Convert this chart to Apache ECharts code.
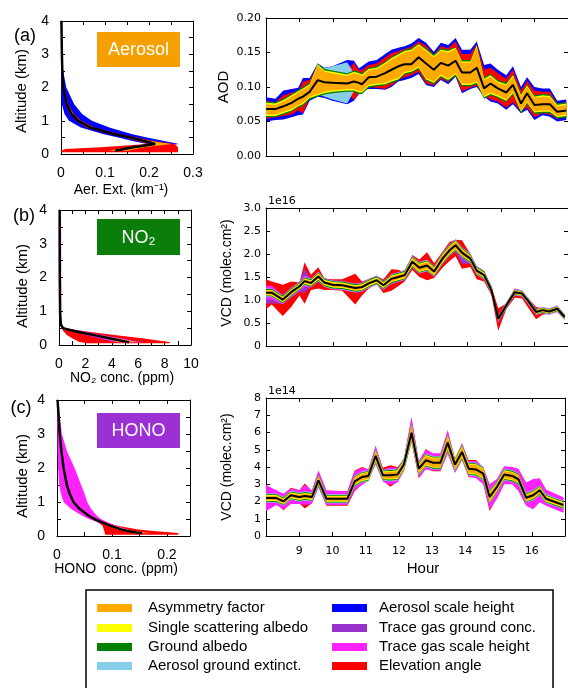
<!DOCTYPE html>
<html>
<head>
<meta charset="utf-8">
<script src="https://cdn.jsdelivr.net/npm/echarts@6/dist/echarts.min.js"></script>
<style>
html, body { margin: 0; background: #fff; }
#chart { width: 568px; height: 688px; }
</style>
</head>
<body>
<div id="chart"></div>
<script>
// colours of the eight sensitivity bands
var cAsym = '#ffaa00', cSsa = '#ffff00', cGalb = '#008000', cAext = '#87ceeb';
var cAsh = '#0000ff', cTgc = '#9932cc', cTsh = '#ff22ff', cElev = '#ff0000';

// ---- (a) aerosol profile (altitude km, extinction km-1)
var altA = [0.05, 0.1, 0.15, 0.2, 0.3, 0.4, 0.5, 0.6, 0.8, 1.0, 1.2, 1.5, 2.0, 2.5, 3.0, 4.0];
var aerMid = [null, .123, .143, .164, .214, .187, .157, .119, .066, .039, .024, .013, .005, .003, .002, .001];
var aerBlueLo = [null, .10, .12, .145, .195, .160, .130, .095, .045, .018, .008, .002, 0, 0, 0, 0];
var aerBlueHi = [null, .16, .19, .22, .268, .232, .195, .160, .110, .070, .048, .030, .012, .005, .002, .001];
var aerRedLo = [0, 0, .01, .09, .198, .172, .145, .108, .058, .034, .020, .010, .004, .002, .001, 0];
var aerRedHi = [.266, .266, .266, .266, .258, .205, .172, .132, .076, .046, .029, .017, .007, .004, .003, .002];
var aerOrLo = [null, .108, .128, .150, .203, .178, .150, .112, .061, .035, .021, .011, .004, .002, .001, 0];
var aerOrHi = [null, .152, .170, .190, .252, .200, .166, .127, .072, .044, .028, .016, .006, .004, .003, .002];

// ---- (a) AOD time series
var hoursA = [8.0, 8.28, 8.52, 8.76, 8.96, 9.1, 9.3, 9.54, 9.74, 9.98, 10.42, 10.62, 10.77, 10.86, 11.06, 11.3, 11.55, 11.74, 11.94, 12.13, 12.33, 12.55, 12.77, 13.0, 13.21, 13.43, 13.65, 13.84, 14.09, 14.28, 14.5, 14.69, 14.91, 15.16, 15.36, 15.6, 15.78, 16.0, 16.24, 16.46, 16.68, 16.95];
var aodMid = [.068,.068,.072,.077,.083,.086,.093,.110,.107,.106, .105,.108,.106,.104,.114,.115,.120,.125,.130,.133, .133,.143,.134,.125,.135,.131,.138,.121,.121,.128, .098,.105,.098,.092,.103,.076,.091,.074,.075,.075, .064,.066];
var aodBlueHi = [.085,.083,.095,.097,.099,.113,.113,.134,.128,.130, .139,.138,.127,.130,.137,.139,.148,.154,.157,.159, .163,.171,.164,.151,.164,.161,.171,.154,.154,.166, .132,.134,.125,.117,.130,.100,.114,.100,.098,.098, .080,.082];
var aodBlueLo = [.050,.052,.053,.056,.059,.060,.080,.086,.084,.080, .075,.080,.090,.095,.097,.097,.096,.100,.108,.110, .113,.119,.103,.100,.110,.104,.115,.091,.097,.100, .086,.079,.076,.067,.075,.062,.067,.052,.059,.057, .050,.052];
var aodRedHi = [.080,.078,.088,.092,.094,.108,.110,.130,.122,.122, .122,.135,.124,.125,.132,.134,.143,.149,.152,.155, .158,.166,.160,.147,.159,.156,.166,.148,.148,.162, .125,.128,.120,.112,.125,.095,.109,.095,.093,.093, .076,.078];
var aodRedLo = [.054,.056,.058,.060,.066,.062,.084,.089,.090,.090, .092,.081,.092,.097,.100,.099,.097,.102,.110,.114, .117,.122,.105,.102,.112,.107,.117,.094,.099,.102, .088,.082,.079,.070,.078,.065,.070,.056,.062,.060, .054,.056];
var aodSkyHi = [.075,.074,.079,.086,.092,.096,.102,.131,.127,.130, .136,.120,.118,.116,.124,.126,.133,.140,.145,.150, .152,.160,.152,.143,.152,.150,.155,.135,.135,.158, .110,.115,.106,.102,.115,.086,.100,.084,.086,.085, .072,.074];
var aodSkyLo = [.060,.060,.064,.068,.074,.077,.086,.090,.086,.082, .076,.094,.094,.094,.103,.105,.106,.110,.113,.122, .124,.130,.113,.108,.118,.112,.120,.105,.105,.108, .087,.092,.088,.082,.093,.066,.079,.065,.066,.066, .058,.060];
var aodGreenHi = [.079,.078,.083,.090,.096,.100,.106,.134,.126,.124, .120,.124,.122,.120,.128,.130,.137,.144,.149,.154, .156,.163,.156,.147,.156,.154,.158,.139,.139,.161, .114,.119,.110,.106,.119,.090,.104,.088,.090,.089, .076,.078];
var aodGreenLo = [.056,.056,.060,.064,.070,.073,.082,.086,.089,.091, .093,.093,.090,.090,.099,.101,.102,.106,.109,.118, .120,.126,.109,.104,.114,.108,.116,.101,.101,.104, .083,.088,.084,.078,.089,.062,.075,.061,.062,.062, .054,.056];
var aodYelHi = [.077,.076,.081,.088,.094,.098,.104,.133,.124,.122, .118,.122,.120,.118,.126,.128,.135,.142,.147,.152, .154,.162,.154,.145,.154,.152,.157,.137,.137,.160, .112,.117,.108,.104,.117,.088,.102,.086,.088,.087, .074,.076];
var aodYelLo = [.058,.058,.062,.066,.072,.075,.084,.088,.091,.093, .095,.095,.092,.092,.101,.103,.104,.108,.111,.120, .122,.128,.111,.106,.116,.110,.118,.103,.103,.106, .085,.090,.086,.080,.091,.064,.077,.063,.064,.064, .056,.058];
var aodOrHi = [.075,.074,.079,.086,.092,.096,.102,.131,.122,.120, .116,.120,.118,.116,.124,.126,.133,.140,.145,.150, .152,.160,.152,.143,.152,.150,.155,.135,.135,.158, .110,.115,.106,.102,.115,.086,.100,.084,.086,.085, .072,.074];
var aodOrLo = [.060,.060,.064,.068,.074,.077,.086,.090,.093,.095, .097,.097,.094,.094,.103,.105,.106,.110,.113,.122, .124,.130,.113,.108,.118,.112,.120,.105,.105,.108, .087,.092,.088,.082,.093,.066,.079,.065,.066,.066, .058,.060];

// ---- (b) NO2 profile (altitude km, ppm)
var altB = [0.05, 0.08, 0.1, 0.2, 0.3, 0.4, 0.5, 0.6, 0.8, 1.0, 1.5, 2.0, 3.0, 4.0];
var no2pMid = [null, 5.3, 5.05, 3.8, 2.55, 1.3, 0.3, 0.15, 0.1, 0.08, 0.07, 0.06, 0.05, 0.05];
var no2pRedLo = [2.0, 1.7, 1.5, 1.0, 0.6, 0.35, 0.2, 0.12, 0.08, 0.07, 0.06, 0.05, 0.04, 0.04];
var no2pRedHi = [8.4, 8.4, 8.2, 6.3, 4.2, 2.1, 0.45, 0.2, 0.13, 0.1, 0.09, 0.08, 0.07, 0.07];
var no2pPurLo = [null, 4.3, 4.1, 3.0, 2.0, 1.0, 0.25, 0.12, 0.08, 0.06, 0.05, 0.04, 0.04, 0.04];
var no2pPurHi = [null, 6.4, 6.1, 4.7, 3.3, 1.8, 0.4, 0.2, 0.14, 0.12, 0.12, 0.12, 0.12, 0.1];
var no2pMagLo = [null, 4.4, 4.2, 3.1, 2.1, 1.05, 0.26, 0.12, 0.08, 0.06, 0.05, 0.04, 0.04, 0.04];
var no2pMagHi = [null, 6.3, 6.0, 4.6, 3.2, 1.75, 0.4, 0.22, 0.18, 0.17, 0.17, 0.17, 0.17, 0.15];
var no2pOrLo = [null, 4.6, 4.4, 3.4, 2.3, 1.15, 0.27, 0.13, 0.09, 0.07, 0.06, 0.05, 0.04, 0.04];
var no2pOrHi = [null, 6.1, 5.8, 4.4, 3.0, 1.6, 0.37, 0.17, 0.11, 0.09, 0.08, 0.07, 0.06, 0.06];

// ---- (b) NO2 VCD time series (1e16 molec/cm2)
var hoursB = [8.0, 8.17, 8.5, 8.75, 9.0, 9.15, 9.34, 9.56, 9.74, 9.98, 10.27, 10.66, 10.86, 11.06, 11.3, 11.5, 11.74, 11.94, 12.13, 12.36, 12.57, 12.8, 13.01, 13.26, 13.47, 13.65, 13.84, 14.09, 14.28, 14.5, 14.72, 14.92, 15.16, 15.41, 15.63, 15.8, 16.05, 16.24, 16.44, 16.68, 16.9];
var no2Mid = [1.16,1.16,1.01,1.17,1.30,1.41,1.37,1.51,1.38,1.33, 1.32,1.26,1.28,1.36,1.43,1.32,1.46,1.50,1.54,1.83, 1.70,1.75,1.62,1.90,2.08,2.19,2.03,1.90,1.64,1.54, 1.21,0.59,0.88,1.17,1.14,0.99,0.74,0.78,0.75,0.81, 0.63];
var no2RedHi = [1.45,1.40,1.33,1.40,1.38,1.82,1.55,1.71,1.47,1.45, 1.45,1.57,1.40,1.45,1.52,1.45,1.67,1.66,1.60,1.98, 1.88,2.04,1.80,2.05,2.26,2.31,2.30,2.00,1.70,1.60, 1.30,0.82,0.92,1.25,1.20,1.05,0.85,0.82,0.80,0.86, 0.68];
var no2RedLo = [0.80,0.90,0.65,0.85,1.10,0.92,1.22,1.25,1.22,1.22, 1.20,0.90,1.10,1.25,1.35,1.15,1.20,1.30,1.40,1.65, 1.50,1.43,1.48,1.70,1.85,1.95,1.68,1.72,1.45,1.40, 1.10,0.33,0.80,1.05,1.03,0.85,0.58,0.68,0.70,0.74, 0.58];
var no2PurHi = [1.30,1.28,1.12,1.25,1.40,1.68,1.45,1.57,1.43,1.40, 1.38,1.33,1.34,1.42,1.50,1.38,1.52,1.56,1.60,1.92, 1.78,1.85,1.70,2.00,2.20,2.29,2.15,1.98,1.70,1.60, 1.26,0.64,0.92,1.22,1.19,1.03,0.78,0.82,0.79,0.85, 0.66];
var no2PurLo = [0.92,0.93,0.92,1.05,1.18,1.15,1.30,1.40,1.30,1.27, 1.25,1.18,1.21,1.29,1.35,1.25,1.38,1.42,1.47,1.72, 1.60,1.62,1.52,1.80,1.95,2.05,1.78,1.80,1.56,1.47, 1.15,0.50,0.84,1.12,1.09,0.94,0.70,0.74,0.71,0.77, 0.60];
// half widths of the thinner bands
var no2MagW = [0.15,0.15,0.10,0.10,0.11,0.12,0.10,0.11,0.10,0.10, 0.10,0.10,0.10,0.10,0.10,0.10,0.11,0.11,0.11,0.13, 0.13,0.13,0.12,0.13,0.13,0.13,0.12,0.11,0.10,0.10, 0.09,0.08,0.07,0.07,0.07,0.07,0.07,0.07,0.07,0.07, 0.06];
var no2SkyW = [0.09,0.09,0.09,0.09,0.09,0.09,0.09,0.10,0.09,0.09, 0.09,0.09,0.09,0.09,0.09,0.09,0.10,0.10,0.10,0.12, 0.12,0.12,0.11,0.12,0.12,0.12,0.11,0.10,0.09,0.09, 0.08,0.07,0.06,0.06,0.06,0.06,0.06,0.06,0.06,0.06, 0.06];
var no2GreenW = [0.08,0.08,0.08,0.08,0.08,0.08,0.08,0.09,0.08,0.08, 0.08,0.08,0.08,0.08,0.08,0.08,0.09,0.09,0.09,0.11, 0.11,0.11,0.10,0.11,0.11,0.11,0.10,0.09,0.08,0.08, 0.07,0.06,0.05,0.05,0.05,0.05,0.05,0.05,0.05,0.05, 0.05];
var no2YelW = [0.06,0.06,0.06,0.06,0.06,0.06,0.06,0.07,0.06,0.06, 0.06,0.06,0.06,0.06,0.06,0.06,0.07,0.07,0.07,0.09, 0.09,0.09,0.08,0.09,0.09,0.09,0.08,0.07,0.06,0.06, 0.05,0.04,0.04,0.04,0.04,0.04,0.04,0.04,0.04,0.04, 0.04];
var no2OrW = [0.04,0.04,0.04,0.04,0.04,0.04,0.04,0.05,0.04,0.04, 0.04,0.04,0.04,0.04,0.04,0.04,0.05,0.05,0.05,0.07, 0.07,0.07,0.06,0.07,0.07,0.07,0.06,0.05,0.04,0.04, 0.04,0.03,0.03,0.03,0.03,0.03,0.03,0.03,0.03,0.03, 0.03];

// ---- (c) HONO profile (altitude km, ppm)
var altC = [0.04, 0.08, 0.1, 0.15, 0.2, 0.3, 0.4, 0.5, 0.6, 0.8, 1.0, 1.25, 1.5, 2.0, 2.5, 3.0, 3.5, 4.0];
var honopMid = [null, .155, .145, .128, .115, .098, .082, .068, .057, .041, .030, .023, .018, .012, .008, .005, .003, .001];
var honopRedLo = [.088, .087, .087, .086, .085, .083, .075, .063, .053, .038, .027, .021, .016, .010, .007, .004, .002, 0];
var honopRedHi = [.220, .222, .210, .175, .145, .110, .090, .073, .061, .044, .033, .025, .020, .013, .009, .006, .004, .002];
var honopMagLo = [null, .150, .140, .124, .111, .092, .075, .058, .045, .025, .012, .007, .004, .002, .001, .001, 0, 0];
var honopMagHi = [null, .165, .155, .140, .128, .108, .093, .080, .072, .062, .055, .050, .044, .032, .018, .009, .005, .003];
var honopOrLo = [null, .138, .132, .120, .108, .093, .078, .065, .055, .039, .028, .022, .017, .011, .007, .004, .002, 0];
var honopOrHi = [null, .172, .160, .140, .125, .104, .087, .071, .059, .043, .032, .025, .019, .013, .009, .006, .004, .002];

// ---- (c) HONO VCD time series (1e14 molec/cm2)
var hoursC = [8.0, 8.31, 8.53, 8.75, 9.0, 9.17, 9.38, 9.58, 9.82, 10.45, 10.67, 10.89, 11.08, 11.3, 11.52, 11.74, 11.96, 12.15, 12.38, 12.6, 12.81, 13.03, 13.25, 13.47, 13.69, 13.9, 14.1, 14.32, 14.54, 14.73, 14.95, 15.17, 15.41, 15.6, 15.83, 16.04, 16.24, 16.43, 16.95];
var honoMid = [2.20,2.20,2.01,2.36,2.26,2.32,2.26,3.23,2.16,2.16, 3.17,3.42,3.48,4.64,3.52,3.52,3.56,4.14,5.99,3.90, 4.39,4.25,4.25,5.41,4.14,4.87,3.90,3.86,3.61,2.26, 2.84,3.56,3.48,3.29,2.22,2.36,2.65,2.16,1.80];
var honoRedHi = [2.85,2.60,2.40,2.80,2.65,3.05,2.60,3.75,2.60,2.60, 3.80,4.00,3.85,5.15,3.95,4.10,4.00,4.45,6.80,4.30, 5.05,4.75,4.75,6.05,4.45,5.30,4.40,4.40,3.95,2.95, 3.25,4.00,3.95,3.85,3.05,3.20,3.30,2.65,2.20];
var honoRedLo = [1.55,1.85,1.50,1.90,1.90,1.60,1.90,2.85,1.75,1.75, 2.60,3.00,3.25,4.20,3.20,2.85,3.15,3.80,5.45,3.35, 3.90,3.75,3.75,4.80,3.70,4.40,3.40,3.40,3.05,1.45, 2.20,3.05,3.05,2.65,1.80,1.60,2.00,1.80,1.40];
var honoMagHi = [2.95,2.65,2.45,2.75,2.65,2.95,2.65,3.80,2.65,2.60, 3.75,3.95,3.85,5.25,3.85,4.00,3.95,4.50,6.90,4.35, 5.00,4.80,4.80,6.15,4.50,5.40,4.35,4.35,4.00,3.00, 3.30,4.05,4.00,3.90,3.10,3.30,3.35,2.70,2.25];
var honoMagLo = [1.45,1.80,1.55,1.85,1.85,1.80,1.85,2.80,1.80,1.80, 2.65,2.95,3.20,4.15,3.15,2.95,3.10,3.75,5.40,3.40, 3.85,3.80,3.80,4.75,3.65,4.40,3.45,3.35,3.00,1.55, 2.15,3.00,3.00,2.60,1.75,1.55,1.95,1.75,1.35];
var honoSkyW = [0.26,0.26,0.26,0.26,0.26,0.27,0.26,0.34,0.26,0.26, 0.32,0.32,0.32,0.39,0.32,0.34,0.34,0.36,0.54,0.36, 0.39,0.39,0.39,0.49,0.39,0.44,0.39,0.39,0.39,0.39, 0.34,0.34,0.34,0.34,0.29,0.29,0.29,0.26,0.24];
var honoGreenW = [0.22,0.22,0.22,0.22,0.22,0.23,0.22,0.30,0.22,0.22, 0.28,0.28,0.28,0.35,0.28,0.30,0.30,0.32,0.50,0.32, 0.35,0.35,0.35,0.45,0.35,0.40,0.35,0.35,0.35,0.35, 0.30,0.30,0.30,0.30,0.25,0.25,0.25,0.22,0.20];
var honoYelW = [0.17,0.17,0.17,0.17,0.17,0.18,0.17,0.25,0.17,0.17, 0.23,0.23,0.23,0.30,0.23,0.25,0.25,0.27,0.45,0.27, 0.30,0.30,0.30,0.40,0.30,0.35,0.30,0.30,0.30,0.30, 0.25,0.25,0.25,0.25,0.20,0.20,0.20,0.17,0.15];
var honoOrW = [0.12,0.12,0.12,0.12,0.12,0.13,0.12,0.20,0.12,0.12, 0.18,0.18,0.18,0.25,0.18,0.20,0.20,0.22,0.40,0.22, 0.25,0.25,0.25,0.35,0.25,0.30,0.25,0.25,0.25,0.25, 0.20,0.20,0.20,0.20,0.15,0.15,0.15,0.12,0.10];

// legend entries
var legendLeft = ['Asymmetry factor', 'Single scattering albedo', 'Ground albedo', 'Aerosol ground extinct.'];
var legendRight = ['Aerosol scale height', 'Trace gas ground conc.', 'Trace gas scale height', 'Elevation angle'];
var legendLeftCol = [cAsym, cSsa, cGalb, cAext];
var legendRightCol = [cAsh, cTgc, cTsh, cElev];

var chart = echarts.init(document.getElementById('chart'));

function add(a, w, s) { return a.map(function (v, i) { return +(v + s * w[i]).toFixed(4); }); }

// filled band between lo and hi, drawn as one polygon through the axes
function band(g, pos, lo, hi, color, profile) {
  var first = 0;
  while (lo[first] == null || hi[first] == null) first++;
  return {
    type: 'custom', xAxisIndex: 2 * g, yAxisIndex: 2 * g, silent: true, clip: true, z: 2,
    data: [profile ? [lo[first], pos[first]] : [pos[first], lo[first]]],
    renderItem: function (params, api) {
      var up = [], dn = [];
      for (var i = 0; i < pos.length; i++) {
        if (lo[i] == null || hi[i] == null) continue;
        up.push(api.coord(profile ? [hi[i], pos[i]] : [pos[i], hi[i]]));
        dn.unshift(api.coord(profile ? [lo[i], pos[i]] : [pos[i], lo[i]]));
      }
      return { type: 'polygon', shape: { points: up.concat(dn) }, style: { fill: color } };
    }
  };
}
function halfBand(g, pos, mid, w, color) { return band(g, pos, add(mid, w, -1), add(mid, w, 1), color, false); }

function midLine(g, pos, vals, profile, width) {
  var d = [];
  pos.forEach(function (p, i) { if (vals[i] != null) d.push(profile ? [vals[i], p] : [p, vals[i]]); });
  return {
    type: 'line', xAxisIndex: 2 * g, yAxisIndex: 2 * g, data: d, symbol: 'none', silent: true, z: 4,
    lineStyle: { color: '#000', width: width }
  };
}

var leftFont = 'Liberation Sans', rightFont = 'DejaVu Sans';
function ax(g, pos, min, max, step, fmt, left) {
  return {
    type: 'value', gridIndex: g, position: pos, min: min, max: max, interval: step,
    axisLine: { show: true, onZero: false, lineStyle: { color: '#000', width: 1 } },
    axisTick: { show: true, inside: true, length: 4, lineStyle: { color: '#000' } },
    splitLine: { show: false },
    axisLabel: {
      show: !!fmt, formatter: fmt, color: '#000',
      fontFamily: left ? leftFont : rightFont, fontSize: left ? 14 : 11,
      margin: left ? 12 : (pos == 'bottom' ? 10 : 5)
    }
  };
}
function every(step, dec) {
  return function (v) {
    var k = v / step;
    if (Math.abs(k - Math.round(k)) > 1e-6) return '';
    return v == 0 && dec > 0 && step < 1 && dec == 1 ? '0' : (+v).toFixed(dec);
  };
}
var hourFmt = function (v) { return (v > 8.5 && v < 16.5) ? String(Math.round(v)) : ''; };

var grids = [
  { left: 61, top: 21, width: 132, height: 133 },
  { left: 266, top: 18, width: 307, height: 138 },
  { left: 59, top: 210, width: 132, height: 135 },
  { left: 266, top: 208, width: 307, height: 138 },
  { left: 57, top: 400, width: 133, height: 136 },
  { left: 266, top: 398, width: 307, height: 138 }
];

var xAxes = [
  ax(0, 'bottom', 0, 0.3, 0.05, every(0.1, 1), true), ax(0, 'top', 0, 0.3, 0.05, null, true),
  ax(1, 'bottom', 8, 17, 1, null, false), ax(1, 'top', 8, 17, 1, null, false),
  ax(2, 'bottom', 0, 10, 1, every(2, 0), true), ax(2, 'top', 0, 10, 1, null, true),
  ax(3, 'bottom', 8, 17, 1, null, false), ax(3, 'top', 8, 17, 1, null, false),
  ax(4, 'bottom', 0, 0.242, 0.05, every(0.1, 1), true), ax(4, 'top', 0, 0.242, 0.05, null, true),
  ax(5, 'bottom', 8, 17, 1, hourFmt, false), ax(5, 'top', 8, 17, 1, null, false)
];
var yAxes = [
  ax(0, 'left', 0, 4, 0.5, every(1, 0), true), ax(0, 'right', 0, 4, 0.5, null, true),
  ax(1, 'left', 0, 0.2, 0.05, every(0.05, 2), false), ax(1, 'right', 0, 0.2, 0.05, null, false),
  ax(2, 'left', 0, 4, 0.5, every(1, 0), true), ax(2, 'right', 0, 4, 0.5, null, true),
  ax(3, 'left', 0, 3, 0.5, every(0.5, 1), false), ax(3, 'right', 0, 3, 0.5, null, false),
  ax(4, 'left', 0, 4, 0.5, every(1, 0), true), ax(4, 'right', 0, 4, 0.5, null, true),
  ax(5, 'left', 0, 8, 1, every(1, 0), false), ax(5, 'right', 0, 8, 1, null, false)
];

var series = [
  // (a) profile
  band(0, altA, aerBlueLo, aerBlueHi, cAsh, true),
  band(0, altA, aerRedLo, aerRedHi, cElev, true),
  band(0, altA, aerOrLo, aerOrHi, cAsym, true),
  midLine(0, altA, aerMid, true, 2.5),
  // (a) AOD
  band(1, hoursA, aodBlueLo, aodBlueHi, cAsh),
  band(1, hoursA, aodRedLo, aodRedHi, cElev),
  band(1, hoursA, aodSkyLo, aodSkyHi, cAext),
  band(1, hoursA, aodGreenLo, aodGreenHi, cGalb),
  band(1, hoursA, aodYelLo, aodYelHi, cSsa),
  band(1, hoursA, aodOrLo, aodOrHi, cAsym),
  midLine(1, hoursA, aodMid, false, 2),
  // (b) profile
  band(2, altB, no2pRedLo, no2pRedHi, cElev, true),
  band(2, altB, no2pPurLo, no2pPurHi, cTgc, true),
  band(2, altB, no2pMagLo, no2pMagHi, cTsh, true),
  band(2, altB, no2pOrLo, no2pOrHi, cAsym, true),
  midLine(2, altB, no2pMid, true, 2.5),
  // (b) NO2 VCD
  band(3, hoursB, no2RedLo, no2RedHi, cElev),
  band(3, hoursB, no2PurLo, no2PurHi, cTgc),
  halfBand(3, hoursB, no2Mid, no2MagW, cTsh),
  halfBand(3, hoursB, no2Mid, no2SkyW, cAext),
  halfBand(3, hoursB, no2Mid, no2GreenW, cGalb),
  halfBand(3, hoursB, no2Mid, no2YelW, cSsa),
  halfBand(3, hoursB, no2Mid, no2OrW, cAsym),
  midLine(3, hoursB, no2Mid, false, 2),
  // (c) profile
  band(4, altC, honopRedLo, honopRedHi, cElev, true),
  band(4, altC, honopMagLo, honopMagHi, cTsh, true),
  band(4, altC, honopOrLo, honopOrHi, cAsym, true),
  midLine(4, altC, honopMid, true, 2.5),
  // (c) HONO VCD
  band(5, hoursC, honoRedLo, honoRedHi, cElev),
  band(5, hoursC, honoMagLo, honoMagHi, cTsh),
  halfBand(5, hoursC, honoMid, honoSkyW, cAext),
  halfBand(5, hoursC, honoMid, honoGreenW, cGalb),
  halfBand(5, hoursC, honoMid, honoYelW, cSsa),
  halfBand(5, hoursC, honoMid, honoOrW, cAsym),
  midLine(5, hoursC, honoMid, false, 2)
];

function txt(x, y, s, size, opt) {
  opt = opt || {};
  return {
    type: 'text', x: x, y: y, rotation: opt.rot || 0, z: 10, silent: true,
    style: {
      text: s, fontSize: size, fontFamily: opt.font || leftFont, fill: opt.fill || '#000',
      align: opt.align || 'center', verticalAlign: 'middle'
    }
  };
}
function tag(x, y, w, h, fill, s) {
  return [
    { type: 'rect', shape: { x: x, y: y, width: w, height: h }, style: { fill: fill }, z: 10, silent: true },
    txt(x + w / 2, y + h / 2 + 1, s, 18, { fill: '#fff' })
  ];
}

var graphic = [].concat(
  tag(97, 32, 83, 35, '#f5a000', 'Aerosol'),
  tag(97, 219, 83, 36, '#0a7d0a', 'NO\u2082'),
  tag(97, 413, 83, 35, '#9b30d4', 'HONO'),
  [
    txt(25, 36, '(a)', 18), txt(24, 216, '(b)', 18), txt(21, 408, '(c)', 18),
    txt(22, 91, 'Altitude (km)', 15, { rot: Math.PI / 2 }),
    txt(23, 286, 'Altitude (km)', 15, { rot: Math.PI / 2 }),
    txt(23, 476, 'Altitude (km)', 15, { rot: Math.PI / 2 }),
    txt(121, 190, 'Aer. Ext. (km\u207b\u00b9)', 14),
    txt(122, 378, 'NO\u2082 conc. (ppm)', 14),
    txt(116, 569, 'HONO  conc. (ppm)', 14),
    txt(224, 87, 'AOD', 15, { rot: Math.PI / 2 }),
    txt(227, 273, 'VCD (molec.cm\u00b2)', 14, { rot: Math.PI / 2 }),
    txt(227, 467, 'VCD (molec.cm\u00b2)', 14, { rot: Math.PI / 2 }),
    txt(268, 201, '1e16', 11, { font: rightFont, align: 'left' }),
    txt(268, 391, '1e14', 11, { font: rightFont, align: 'left' }),
    txt(423, 569, 'Hour', 15),
    { type: 'rect', shape: { x: 86, y: 590, width: 467, height: 120 }, z: 9, silent: true,
      style: { fill: '#fff', stroke: '#000', lineWidth: 1.5 } }
  ]
);
var rowY = [608, 628, 647, 666];
rowY.forEach(function (y, i) {
  graphic.push({ type: 'rect', shape: { x: 97, y: y - 4, width: 35, height: 8 }, style: { fill: legendLeftCol[i] }, z: 10, silent: true });
  graphic.push(txt(148, y, legendLeft[i], 15, { align: 'left' }));
  graphic.push({ type: 'rect', shape: { x: 332, y: y - 4, width: 35, height: 8 }, style: { fill: legendRightCol[i] }, z: 10, silent: true });
  graphic.push(txt(379, y, legendRight[i], 15, { align: 'left' }));
});

chart.setOption({
  animation: false,
  backgroundColor: '#fff',
  grid: grids,
  xAxis: xAxes,
  yAxis: yAxes,
  series: series,
  graphic: graphic
});
</script>
</body>
</html>
